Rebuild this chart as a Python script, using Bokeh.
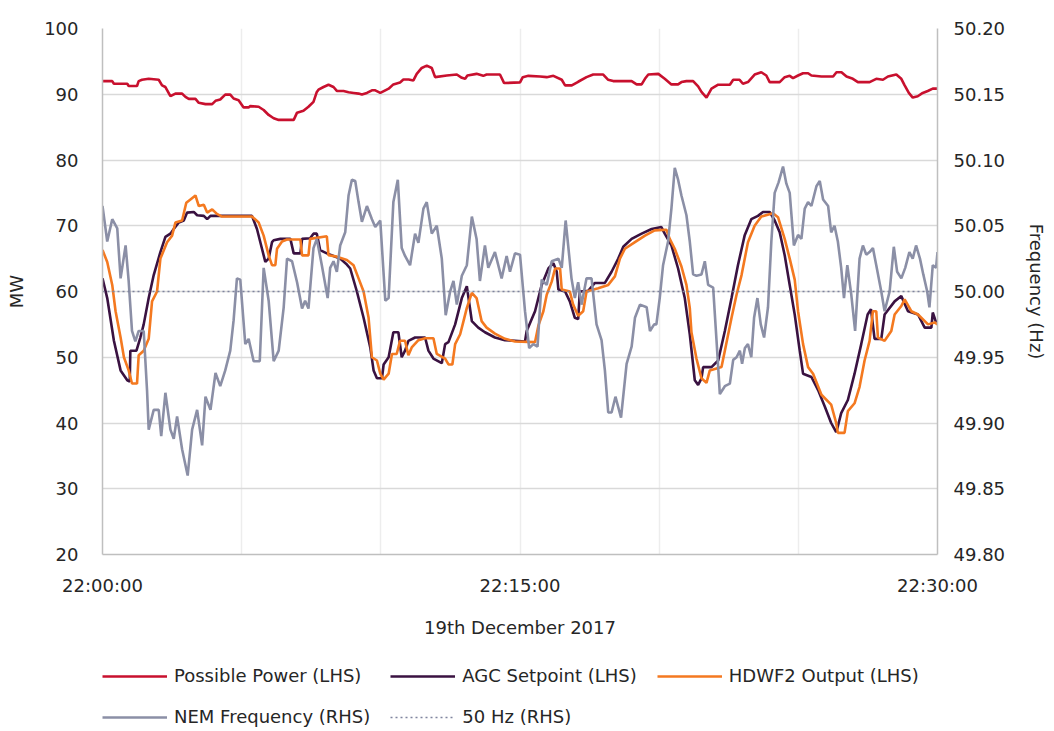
import pandas as pd
from bokeh.plotting import figure
from bokeh.layouts import column
from bokeh.models import (Range1d, LinearAxis, FixedTicker, DatetimeTickFormatter,
                          NumeralTickFormatter, Legend, LegendItem)
from bokeh.embed import file_html
from bokeh.resources import INLINE

# ---- data (minutes after 22:00:00, values) ----
pp_min = [0, 0.35, 0.41, 0.89, 0.94, 1.24, 1.30, 1.42, 1.66, 2.02, 2.14, 2.26, 2.44, 2.62, 2.86, 2.98, 3.10, 3.34,
          3.46, 3.70, 3.94, 4.06, 4.23, 4.41, 4.59, 4.71, 4.89, 5.07, 5.25, 5.31, 5.61, 5.79, 5.97, 6.15, 6.33, 6.87,
          6.99, 7.22, 7.40, 7.58, 7.70, 7.76, 7.94, 8.12, 8.30, 8.42, 8.66, 8.84, 9.02, 9.20, 9.32, 9.50, 9.68, 9.80,
          9.98, 10.16, 10.28, 10.45, 10.69, 10.81, 11.0, 11.17, 11.29, 11.47, 11.65, 11.83, 11.95, 12.37, 12.73,
          12.91, 13.03, 13.11, 13.44, 13.68, 13.80, 14.28, 14.43, 15.0, 15.10, 15.30, 15.72, 15.96, 16.20, 16.50,
          16.62, 16.86, 17.09, 17.39, 17.63, 17.99, 18.17, 18.35, 19.01, 19.19, 19.37, 19.49, 19.61, 19.97, 20.20,
          20.44, 20.68, 20.80, 20.98, 21.22, 21.40, 21.52, 21.70, 21.88, 22.12, 22.54, 22.66, 22.89, 23.01, 23.19,
          23.43, 23.67, 23.85, 23.97, 24.33, 24.51, 24.69, 24.81, 24.99, 25.17, 25.35, 25.47, 25.83, 26.25, 26.37,
          26.55, 26.73, 26.96, 27.14, 27.56, 27.80, 28.04, 28.22, 28.52, 28.70, 28.82, 28.97, 29.11, 29.29, 29.47,
          29.65, 29.83, 30.0]
pp_mw = [92, 92, 91.6, 91.6, 91.25, 91.25, 92, 92.2, 92.35, 92.2, 91.35, 91.1, 89.7, 90.1, 90.1, 89.6, 89.3, 89.3,
         88.7, 88.5, 88.5, 89, 89.2, 89.95, 89.95, 89.35, 89.1, 88, 88, 88.2, 88.1, 87.6, 86.85, 86.35, 86.1, 86.1,
         87.2, 87.5, 88.1, 88.85, 90.35, 90.7, 91.1, 91.45, 91.1, 90.5, 90.5, 90.3, 90.2, 90.1, 89.95, 90.2, 90.6, 90.6,
         90.2, 90.6, 90.85, 91.5, 91.8, 92.25, 92.25, 92.1, 93.1, 94, 94.35, 94, 92.6, 92.85, 93,
         92.5, 92.35, 92.85, 93.1, 92.8, 93, 93, 91.7, 91.8, 92.6, 92.8, 92.7, 92.6, 92.8, 92.2,
         91.35, 91.35, 91.9, 92.6, 93, 93, 92.2, 92, 92, 91.5, 91.5, 92.35, 93, 93.1, 92.35,
         91.5, 91.5, 91.85, 92, 92, 91.2, 90.35, 89.5, 90.85, 91.45, 91.45, 92.2, 92.2, 91.6, 91.85,
         93, 93.35, 92.85, 91.85, 91.85, 92.6, 92.8, 92.45, 92.85, 93.2, 93.2, 92.85, 92.7, 92.7, 93.35,
         93.35, 92.7, 92.35, 91.85, 91.85, 92.35, 92.2, 92.7, 93, 92.35, 91.35, 90.2, 89.5, 89.7, 90.2,
         90.5, 90.85, 90.85]

agc_min = [0.0, 0.17, 0.41, 0.65, 0.89, 0.98, 1.00, 1.22, 1.36, 1.48, 1.66, 1.84, 2.08, 2.26, 2.44, 2.56, 2.74, 2.92,
           3.04, 3.28, 3.40, 3.64, 3.76, 3.88, 4.23, 5.37, 5.55, 5.73, 5.85, 5.97, 6.09, 6.15, 6.39, 6.75, 6.87, 7.11,
           7.17, 7.46, 7.58, 7.70, 7.82, 8.06, 8.30, 8.54, 8.78, 8.90, 9.14, 9.38, 9.62, 9.74, 9.86, 10.04, 10.10,
           10.28, 10.45, 10.63, 10.75, 10.87, 10.99, 11.23, 11.59, 11.71, 11.89, 12.19, 12.31, 12.43, 12.67, 12.91,
           13.09, 13.27, 13.50, 13.74, 14.10, 14.46, 14.82, 15.18, 15.24, 15.54, 15.78, 16.02, 16.20, 16.32, 16.38,
           16.62, 16.79, 16.97, 17.09, 17.15, 17.45, 17.69, 18.05, 18.29, 18.53, 18.71, 19.01, 19.37, 19.73, 20.08,
           20.20, 20.44, 20.68, 20.92, 21.10, 21.28, 21.40, 21.52, 21.58, 21.88, 22.12, 22.36, 22.60, 22.83, 23.07,
           23.31, 23.55, 23.73, 23.97, 24.15, 24.33, 24.51, 24.69, 24.87, 25.05, 25.17, 25.47, 25.71, 25.95, 26.18,
           26.36, 26.42, 26.54, 26.78, 27.02, 27.26, 27.49, 27.61, 27.74, 27.98, 28.10, 28.46, 28.70, 28.94, 29.30,
           29.54, 29.78, 29.83, 29.95, 30.0]
agc_mw = [62, 59, 52.5, 48, 46.5, 46.3, 51, 51, 53, 55, 59, 62.5, 66, 68.3, 68.8, 69.5, 70.5, 70.8,
          72, 72.1, 71.6, 71.5, 71, 71.5, 71.5, 71.5, 69.5, 66.5, 64.5, 65, 67.5, 67.8, 68, 68, 65.8, 65.8,
          68, 68.1, 68.8, 68.8, 66.3, 65.8, 65.4, 65, 64.1, 63.5, 60, 56, 51.5, 48, 46.8, 46.8, 48.9,
          50, 53.8, 53.8, 50, 51, 52.5, 53, 53, 51, 49.8, 49.1, 52, 52.3, 55, 59,
          60.8, 55.5, 54.5, 53.8, 53, 52.6, 52.5, 52.4, 54, 57, 61, 63.5, 64.3, 63, 60.3,
          60, 58.5, 56, 55.8, 60, 60.1, 61.3, 61.3, 63, 65, 66.8, 68, 68.8, 69.5, 69.8,
          68.8, 67, 63.5, 59, 53.5, 46.5, 45.8, 46.8, 48.5, 48.5, 49.5, 54, 59, 64, 68.5,
          71, 71.5, 72.1, 72.1, 70.8, 69, 65.5, 61, 56.5, 51, 47.5, 47, 45, 42.5, 40,
          38.6, 39.5, 41.5, 43.5, 47.5, 52, 56.5, 57.3, 52.8, 52.8, 56.5, 58.5, 59.3, 57, 56.5,
          54.5, 54.5, 56.8, 55.3, 55.5]

out_min = [0.0, 0.17, 0.35, 0.47, 0.65, 0.77, 0.94, 1.06, 1.24, 1.30, 1.48, 1.66, 1.78, 1.96, 2.08, 2.32, 2.50, 2.62,
           2.86, 3.01, 3.16, 3.34, 3.46, 3.64, 3.76, 3.94, 4.11, 4.29, 5.37, 5.61, 5.79, 5.97, 6.09, 6.21, 6.27, 6.45,
           6.63, 7.11, 7.17, 7.40, 7.46, 8.06, 8.12, 8.42, 8.78, 9.02, 9.20, 9.38, 9.56, 9.68, 9.86, 9.98, 10.10, 10.28,
           10.40, 10.57, 10.69, 10.87, 10.99, 11.11, 11.35, 11.59, 11.89, 12.01, 12.31, 12.43, 12.57, 12.67, 12.85,
           12.97, 13.09, 13.27, 13.44, 13.62, 13.80, 14.10, 14.46, 14.82, 15.54, 15.66, 15.84, 15.96, 16.14, 16.26,
           16.44, 16.50, 16.79, 16.91, 17.09, 17.27, 17.39, 17.81, 18.17, 18.41, 18.59, 18.77, 19.13, 19.49, 19.84,
           20.26, 20.38, 20.56, 20.80, 20.98, 21.10, 21.16, 21.34, 21.52, 21.70, 21.82, 22.24, 22.36, 22.60, 22.78,
           22.96, 23.19, 23.43, 23.67, 24.09, 24.27, 24.51, 24.69, 24.87, 24.99, 25.17, 25.35, 25.53, 25.83, 26.18,
           26.36, 26.42, 26.66, 26.78, 27.02, 27.20, 27.38, 27.56, 27.68, 27.80, 27.86, 28.10, 28.34, 28.46, 28.70,
           28.82, 29.06, 29.30, 29.66, 29.90, 30.0]
out_mw = [66.3, 64.5, 61, 57, 53, 50, 48, 46, 46, 50.3, 51, 52.8, 58.5, 60, 65, 67.5, 68.5, 70.5,
          70.8, 73.5, 74, 74.6, 73, 73.2, 72, 72.5, 71.8, 71.4, 71.4, 70.5, 68.5, 65.5, 64, 64, 66.5, 67.6,
          67.9, 67.9, 65.5, 65.5, 68, 68.4, 65.5, 65.3, 64.8, 64, 62, 60, 56, 50, 49.5, 47.5, 46.6, 47.5,
          50.5, 50.5, 52.5, 52.5, 50.3, 51.5, 52.6, 52.9, 52.9, 50.5, 49.8, 48.9, 48.9, 52, 53.5,
          55.5, 57.5, 59.8, 59, 55.5, 54.5, 53.6, 52.8, 52.4, 52.3, 54.8, 57, 59.5, 61.5, 63.5,
          63.5, 60.3, 60, 58, 56.3, 57, 60, 60.5, 61, 62.3, 65, 66.5, 67.5, 68.5, 69.3,
          69.4, 68, 66.5, 63.8, 61, 57.5, 53.8, 49.8, 46.8, 46.1, 48, 48.5, 51, 56, 59.5,
          62.5, 67.5, 70, 71.4, 71.9, 71.3, 68, 65, 61.8, 57, 52, 48.5, 47.5, 44.3, 42.8,
          40, 38.5, 38.5, 41.8, 43, 45.5, 49.5, 52.5, 57, 57, 53, 52.5, 54, 56.5, 57.8,
          58.8, 57, 56.5, 55, 55.3, 55]

nem_min = [0.00, 0.17, 0.35, 0.53, 0.65, 0.83, 0.94, 1.06, 1.18, 1.30, 1.48, 1.60, 1.66, 1.84, 2.02, 2.11, 2.26, 2.44,
           2.56, 2.68, 2.86, 3.06, 3.22, 3.40, 3.58, 3.70, 3.88, 4.06, 4.23, 4.41, 4.59, 4.71, 4.83, 4.95, 5.13, 5.25,
           5.43, 5.65, 5.79, 5.97, 6.15, 6.33, 6.51, 6.63, 6.81, 6.99, 7.17, 7.28, 7.40, 7.58, 7.70, 7.88, 8.09, 8.18,
           8.30, 8.42, 8.54, 8.72, 8.84, 8.96, 9.08, 9.20, 9.32, 9.50, 9.68, 9.80, 9.98, 10.16, 10.28, 10.45, 10.61,
           10.75, 10.87, 11.05, 11.23, 11.35, 11.53, 11.65, 11.83, 12.01, 12.19, 12.33, 12.49, 12.61, 12.73, 12.91,
           13.09, 13.27, 13.44, 13.56, 13.74, 13.86, 14.10, 14.34, 14.52, 14.64, 14.82, 15.00, 15.18, 15.33, 15.48,
           15.63, 15.78, 15.96, 16.14, 16.38, 16.50, 16.64, 16.85, 16.97, 17.09, 17.21, 17.39, 17.57, 17.75, 17.93,
           18.05, 18.17, 18.29, 18.43, 18.63, 18.83, 19.01, 19.13, 19.31, 19.55, 19.67, 19.82, 19.90, 20.02, 20.14,
           20.32, 20.44, 20.56, 20.68, 20.80, 20.98, 21.10, 21.22, 21.34, 21.52, 21.64, 21.76, 21.94, 22.06, 22.18,
           22.36, 22.54, 22.66, 22.78, 22.90, 22.98, 23.08, 23.19, 23.31, 23.41, 23.53, 23.65, 23.77, 23.91, 24.03,
           24.15, 24.29, 24.45, 24.57, 24.69, 24.84, 24.99, 25.11, 25.23, 25.35, 25.47, 25.65, 25.77, 25.89, 26.07,
           26.18, 26.30, 26.42, 26.54, 26.64, 26.76, 26.90, 27.04, 27.20, 27.32, 27.44, 27.56, 27.68, 27.80, 27.98,
           28.10, 28.28, 28.43, 28.55, 28.70, 28.84, 28.99, 29.11, 29.23, 29.37, 29.49, 29.63, 29.71, 29.83, 29.95,
           30.00]
nem_hz = [50.065, 50.038, 50.055, 50.048, 50.010, 50.035, 50.008, 49.970, 49.962, 49.970, 49.970, 49.925, 49.895,
          49.910, 49.910, 49.890, 49.923, 49.895, 49.888, 49.905, 49.880, 49.860, 49.895, 49.910, 49.883, 49.920,
          49.910, 49.938, 49.928, 49.940, 49.955, 49.978, 50.010, 50.009, 49.960, 49.964, 49.947, 49.947, 50.018,
          49.993, 49.947, 49.955, 49.988, 50.025, 50.023, 50.007, 49.987, 49.993, 49.987, 50.033, 50.040, 50.020,
          49.995, 50.018, 50.023, 50.015, 50.035, 50.045, 50.073, 50.085, 50.084, 50.068, 50.053, 50.065, 50.055,
          50.049, 50.054, 49.993, 49.995, 50.068, 50.085, 50.033, 50.027, 50.020, 50.044, 50.037, 50.063, 50.068,
          50.044, 50.050, 50.025, 49.982, 50.000, 50.008, 49.990, 50.012, 50.020, 50.057, 50.040, 50.008, 50.035,
          50.018, 50.030, 50.010, 50.027, 50.015, 50.029, 50.028, 49.985, 49.957, 49.960, 49.958, 50.009, 50.005,
          50.023, 50.025, 50.018, 50.054, 50.010, 49.995, 50.007, 49.990, 50.010, 50.010, 49.975, 49.963, 49.940,
          49.908, 49.908, 49.920, 49.904, 49.945, 49.958, 49.980, 49.990, 49.988, 49.970, 49.975, 49.975, 49.995,
          50.020, 50.038, 50.063, 50.094, 50.085, 50.073, 50.058, 50.038, 50.013, 50.012, 50.013, 50.023, 50.005,
          50.003, 49.963, 49.922, 49.928, 49.930, 49.948, 49.950, 49.955, 49.945, 49.957, 49.960, 49.950, 49.980,
          49.995, 49.975, 49.965, 49.988, 50.038, 50.075, 50.083, 50.095, 50.082, 50.075, 50.035, 50.043, 50.040,
          50.063, 50.068, 50.065, 50.080, 50.084, 50.070, 50.065, 50.045, 50.050, 50.038, 50.018, 49.995, 50.020,
          49.998, 49.970, 50.025, 50.035, 50.028, 50.030, 50.033, 50.020, 50.000, 49.985, 50.000, 50.034, 50.015,
          50.010, 50.018, 50.030, 50.025, 50.035, 50.025, 50.013, 50.000, 49.988, 50.020, 50.018, 50.030]

ref_min = [0, 30]
ref_hz = [50.0, 50.0]

series_labels = ["Possible Power (LHS)", "AGC Setpoint (LHS)", "HDWF2 Output (LHS)",
                 "NEM Frequency (RHS)", "50 Hz (RHS)"]

x_tick_min = [0, 15, 30]
x_grid_min = [0, 5, 10, 15, 20, 25, 30]
lhs_ticks = [20, 30, 40, 50, 60, 70, 80, 90, 100]
rhs_ticks = [49.80, 49.85, 49.90, 49.95, 50.00, 50.05, 50.10, 50.15, 50.20]

start = pd.Timestamp("2017-12-19 22:00:00")


def tt(mins):
    return (start + pd.to_timedelta(mins, unit="m")).to_numpy()


def ms(mins):
    return [(start + pd.Timedelta(minutes=m)).timestamp() * 1000 for m in mins]


FONT = "DejaVu Sans"
TXT = "#262626"
styles = [
    dict(color="#c8102e", line_width=2.6),
    dict(color="#3a1241", line_width=2.6),
    dict(color="#f47920", line_width=2.6),
    dict(color="#8b8fa6", line_width=2.6),
    dict(color="#7f849e", line_width=1.6, line_dash="2 3"),
]

p = figure(width=1050, height=640, x_axis_type="datetime", output_backend="svg",
           toolbar_location=None, min_border_left=102, min_border_right=112,
           min_border_top=28, min_border_bottom=80,
           x_range=Range1d(tt([0])[0], tt([30])[0]), y_range=Range1d(20, 100))
p.extra_y_ranges = {"hz": Range1d(49.80, 50.20)}
p.outline_line_color = None

p.line(tt(pp_min), pp_mw, **styles[0])
p.line(tt(agc_min), agc_mw, **styles[1])
p.line(tt(out_min), out_mw, **styles[2])
p.line(tt(nem_min), nem_hz, y_range_name="hz", **styles[3])
p.line(tt(ref_min), ref_hz, y_range_name="hz", **styles[4])

# axes
xa = p.xaxis[0]
xa.ticker = FixedTicker(ticks=ms(x_tick_min))
fmt = "%H:%M:%S"
xa.formatter = DatetimeTickFormatter(seconds=fmt, minsec=fmt, minutes=fmt, hourmin=fmt, hours=fmt)
xa.axis_label = "19th December 2017"

ya = p.yaxis[0]
ya.ticker = FixedTicker(ticks=lhs_ticks)
ya.axis_label = "MW"

ra = LinearAxis(y_range_name="hz", ticker=FixedTicker(ticks=rhs_ticks),
                formatter=NumeralTickFormatter(format="0.00"), axis_label="Frequency (Hz)")
p.add_layout(ra, "right")

for ax in [xa, ya, ra]:
    ax.axis_line_color = "#bfbfbf"
    ax.axis_line_width = 1.5
    ax.major_tick_line_color = None
    ax.minor_tick_line_color = None
    ax.major_label_text_font = FONT
    ax.major_label_text_font_size = "18px"
    ax.major_label_text_color = TXT
    ax.axis_label_text_font = FONT
    ax.axis_label_text_font_size = "18px"
    ax.axis_label_text_font_style = "normal"
    ax.axis_label_text_color = TXT
ya.major_label_standoff = 18
ra.major_label_standoff = 10
xa.major_label_standoff = 14
xa.axis_label_standoff = 18
ya.axis_label_standoff = 14
ra.axis_label_standoff = 18

p.xgrid.ticker = FixedTicker(ticks=ms(x_grid_min))
p.xgrid.grid_line_color = "#ededed"
p.xgrid.grid_line_width = 1.5
p.ygrid.grid_line_color = "#d9d9d9"
p.ygrid.grid_line_width = 1.5

# legend strip below the chart (sample renderers sit outside the visible range)
lg = figure(width=1050, height=88, output_backend="svg", toolbar_location=None,
            x_axis_location=None, y_axis_location=None, min_border=0,
            x_range=Range1d(0, 1), y_range=Range1d(0, 1))
lg.grid.visible = False
lg.outline_line_color = None
for fig in (p, lg):
    if "frame_align" in fig.properties():
        fig.frame_align = False
items = []
for lab, st in zip(series_labels, styles):
    r = lg.line(x=[5, 6], y=[5, 6], **st)
    items.append(LegendItem(label=lab, renderers=[r]))
legend = Legend(items=items, orientation="horizontal", ncols=3, location=(102, 1))
legend.margin = 0
legend.padding = 0
legend.spacing = 20
legend.glyph_width = 65
legend.glyph_height = 20
legend.label_height = 20
legend.label_standoff = 7
legend.label_text_font = FONT
legend.label_text_font_size = "18px"
legend.label_text_color = TXT
legend.border_line_color = None
legend.background_fill_alpha = 0
lg.add_layout(legend, "center")

layout = column(p, lg, spacing=0)
open("out.html", "w").write(file_html(layout, INLINE))
